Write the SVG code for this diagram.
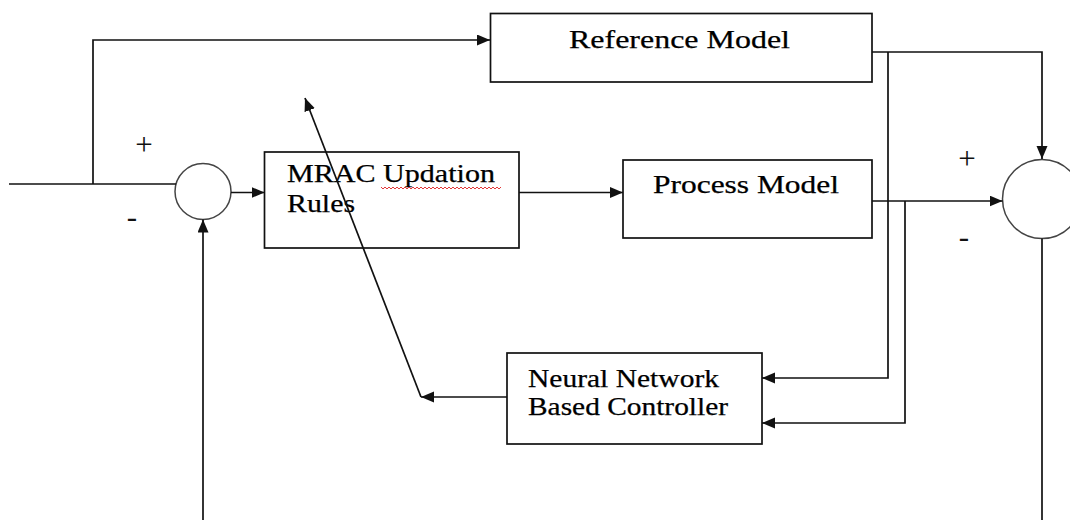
<svg xmlns="http://www.w3.org/2000/svg" width="1070" height="520" viewBox="0 0 1070 520">
<style>
.box{fill:#fff;stroke:#111;stroke-width:1.7}
.sum{fill:#fff;stroke:#444;stroke-width:1.5}
.wire{fill:none;stroke:#111;stroke-width:1.7}
.t{font-family:"Liberation Serif","Times New Roman",serif;fill:#000;font-size:25px;stroke:#000;stroke-width:0.25}
.sign{font-family:"Liberation Serif","Times New Roman",serif;fill:#111;font-size:31px;text-anchor:middle}
</style>
<defs>
<marker id="ah" markerUnits="userSpaceOnUse" markerWidth="14" markerHeight="12" refX="13" refY="5.5" orient="auto">
<path d="M0,0 L13,5.5 L0,11 z" fill="#111"/>
</marker>
</defs>
<rect width="1070" height="520" fill="#fff"/>

<g id="sum-left">
<circle class="sum" cx="203" cy="191.5" r="28"/>
</g>
<g id="sum-right">
<circle class="sum" cx="1042" cy="199" r="39.5"/>
</g>

<g id="reference-model">
<rect class="box" x="490.5" y="13.5" width="381.5" height="68.5"/>
<text class="t" x="569" y="48" font-size="26" textLength="221" lengthAdjust="spacingAndGlyphs">Reference Model</text>
</g>

<g id="mrac-updation-rules">
<rect class="box" x="264.5" y="152" width="254.5" height="96"/>
<text class="t" x="287" y="182" textLength="208" lengthAdjust="spacingAndGlyphs">MRAC Updation</text>
<text class="t" x="287" y="212" textLength="68" lengthAdjust="spacingAndGlyphs">Rules</text>
<path d="M381,187l2,2l2,-2l2,2l2,-2l2,2l2,-2l2,2l2,-2l2,2l2,-2l2,2l2,-2l2,2l2,-2l2,2l2,-2l2,2l2,-2l2,2l2,-2l2,2l2,-2l2,2l2,-2l2,2l2,-2l2,2l2,-2l2,2l2,-2l2,2l2,-2l2,2l2,-2l2,2l2,-2l2,2l2,-2l2,2l2,-2l2,2l2,-2l2,2l2,-2l2,2l2,-2l2,2l2,-2l2,2l2,-2l2,2l2,-2l2,2l2,-2l2,2l2,-2l2,2l2,-2l2,2l2,-2" fill="none" stroke="#e02020" stroke-width="0.9"/>
</g>

<g id="process-model">
<rect class="box" x="623" y="160" width="249" height="78"/>
<text class="t" x="653" y="193" font-size="26" textLength="186" lengthAdjust="spacingAndGlyphs">Process Model</text>
</g>

<g id="neural-network-controller">
<rect class="box" x="507" y="353" width="255" height="91"/>
<text class="t" x="528" y="387" textLength="191" lengthAdjust="spacingAndGlyphs">Neural Network</text>
<text class="t" x="528" y="415" textLength="200" lengthAdjust="spacingAndGlyphs">Based Controller</text>
</g>

<g id="connectors">
<path class="wire" d="M9,184 H176"/>
<path class="wire" d="M93,184 V40 H490" marker-end="url(#ah)"/>
<path class="wire" d="M231,192.5 H264.5" marker-end="url(#ah)"/>
<path class="wire" d="M519,192.5 H623" marker-end="url(#ah)"/>
<path class="wire" d="M872,52 H1042 V159" marker-end="url(#ah)"/>
<path class="wire" d="M888,52 V378 H762" marker-end="url(#ah)"/>
<path class="wire" d="M872,201 H1002.5" marker-end="url(#ah)"/>
<path class="wire" d="M905,201 V423 H762" marker-end="url(#ah)"/>
<path class="wire" d="M1042,238.5 V520"/>
<path class="wire" d="M203,520 V219.5" marker-end="url(#ah)"/>
<path class="wire" d="M507,397 H421" marker-end="url(#ah)"/>
<path class="wire" d="M421,397 L305,98" marker-end="url(#ah)"/>
</g>

<g id="signs">
<text class="sign" x="144" y="155">+</text>
<text class="sign" x="132" y="227">-</text>
<text class="sign" x="967" y="169">+</text>
<text class="sign" x="964" y="247">-</text>
</g>
</svg>
